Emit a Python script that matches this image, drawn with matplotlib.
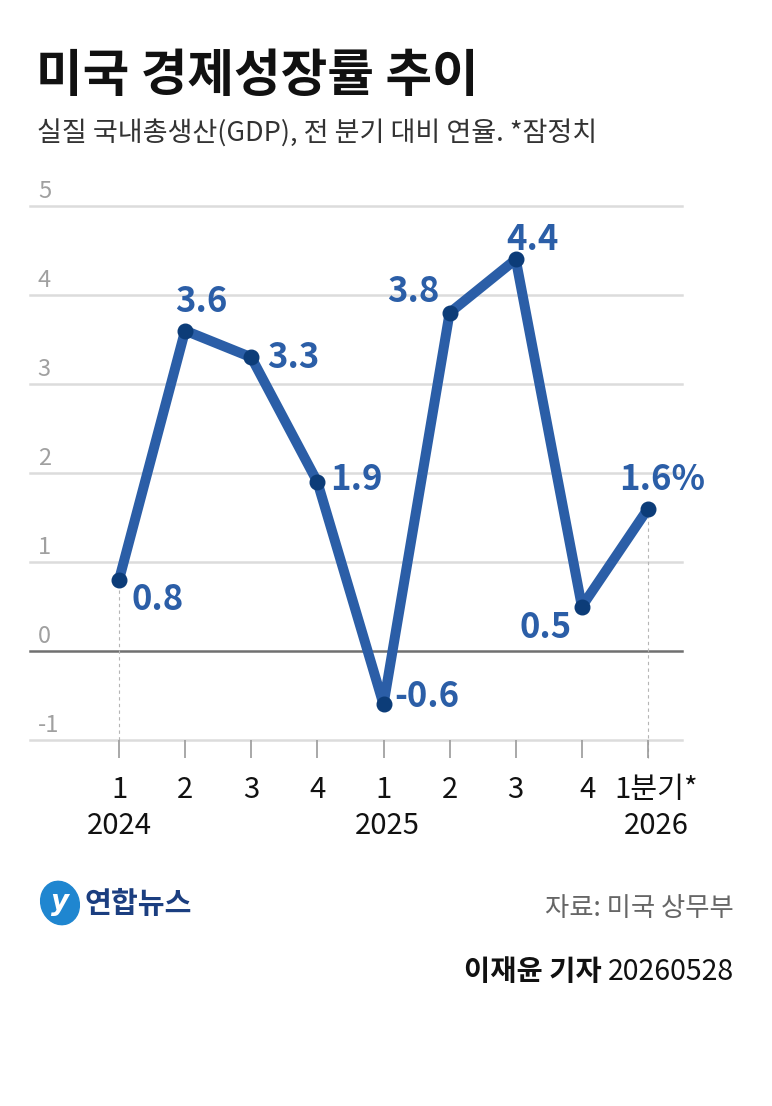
import matplotlib.pyplot as plt
from matplotlib.patches import Ellipse

plt.rcParams['font.family'] = ['Noto Sans CJK KR', 'DejaVu Sans']

# data
quarters = ['1', '2', '3', '4', '1', '2', '3', '4', '1분기*']
years = ['2024', '2025', '2026']
year_pos = [0, 4, 8]
growth = [0.8, 3.6, 3.3, 1.9, -0.6, 3.8, 4.4, 0.5, 1.6]
value_labels = ['0.8', '3.6', '3.3', '1.9', '-0.6', '3.8', '4.4', '0.5', '1.6%']
y_ticks = [5, 4, 3, 2, 1, 0, -1]

# label offsets in points (layout only)
offsets = [(28, -14), (12, 21), (30, 0), (28, 2), (31, 6), (-26, 15), (12, 14), (-26, -15), (10, 21)]

W, H = 772, 1106
fig = plt.figure(figsize=(W / 100, H / 100), dpi=100)

# axes placed in pixel terms: x 30..682, y 206..740
ax = fig.add_axes([30 / W, (H - 740) / H, 652 / W, 534 / H])
ax.set_xlim(-1.346, 8.514)
ax.set_ylim(-1, 5)
for s in ax.spines.values():
    s.set_visible(False)
ax.set_yticks([])
ax.set_xticks(range(len(quarters)))
ax.tick_params(axis='x', length=13, width=1.2, color='#9a9a9a', labelbottom=False)

# gridlines
for v in y_ticks:
    if v == 0:
        ax.axhline(v, color='#707070', lw=1.8, zorder=1, clip_on=False)
    else:
        ax.axhline(v, color='#dcdcdc', lw=1.8, zorder=1, clip_on=False)
    ax.text(0.012, v + 0.09, str(v), transform=ax.get_yaxis_transform(),
            fontsize=17, color='#a0a0a0', fontweight='light', va='baseline', ha='left')

# dashed guides for first and last point
ax.vlines([0], -1, growth[0], colors='#b5b5b5', linestyles=(0, (3, 3)), lw=0.8, zorder=1)
ax.vlines([8], -1.2, growth[8], colors='#b5b5b5', linestyles=(0, (3, 3)), lw=0.8, zorder=1, clip_on=False)

x = list(range(len(growth)))
ax.plot(x, growth, color='#2b5ea7', lw=7.2, solid_capstyle='round', solid_joinstyle='round', zorder=3)
ax.plot(x, growth, 'o', color='#0c3c78', ms=10.5, zorder=4)

for i, (v, lab) in enumerate(zip(growth, value_labels)):
    ax.annotate(lab, (i, v), xytext=offsets[i], textcoords='offset points',
                ha='center', va='center', fontsize=25, fontweight='bold', color='#2b5ea7', zorder=5)

# quarter and year labels
xt = ax.get_xaxis_transform()
for i, q in enumerate(quarters):
    dx = 0.08 if i == 7 else (0.13 if i == 8 else 0)
    ax.text(i + dx, -0.094, q, transform=xt, ha='center', va='center', fontsize=21, color='#111111')
for p, yr in zip(year_pos, years):
    dx = 0.13 if p == 8 else (0.05 if p == 4 else 0)
    ax.text(p + dx, -0.161, yr, transform=xt, ha='center', va='center', fontsize=21, color='#111111')

# title and subtitle
fig.text(36 / W, 1 - 77 / H, '미국 경제성장률 추이', fontsize=36.5, fontweight='bold', color='#111111',
         ha='left', va='center')
fig.text(37 / W, 1 - 134 / H, '실질 국내총생산(GDP), 전 분기 대비 연율. *잠정치', fontsize=19.5, color='#333333',
         ha='left', va='center')

# logo
lax = fig.add_axes([0, 0, 1, 1], facecolor='none')
lax.set_xlim(0, W)
lax.set_ylim(H, 0)
lax.axis('off')
lax.add_patch(Ellipse((60, 903), 38, 44, angle=-20, color='#1f86d0'))
lax.text(60, 902, 'y', fontsize=20, fontstyle='italic', fontweight='bold', color='white',
         ha='center', va='center', family='DejaVu Sans')
lax.text(84, 904, '연합뉴스', fontsize=21, fontweight='bold', color='#1b3e80', ha='left', va='center')

# source and byline
lax.text(734, 908, '자료: 미국 상무부', fontsize=19, color='#666666', ha='right', va='center')
num = lax.text(734, 972, '20260528', fontsize=20.5, color='#111111', ha='right', va='center')
lax.annotate('이재윤 기자 ', xy=(0, 0.5), xycoords=num, fontsize=20.5, fontweight='bold',
             color='#111111', ha='right', va='center')

fig.savefig('out.png', dpi=100)
